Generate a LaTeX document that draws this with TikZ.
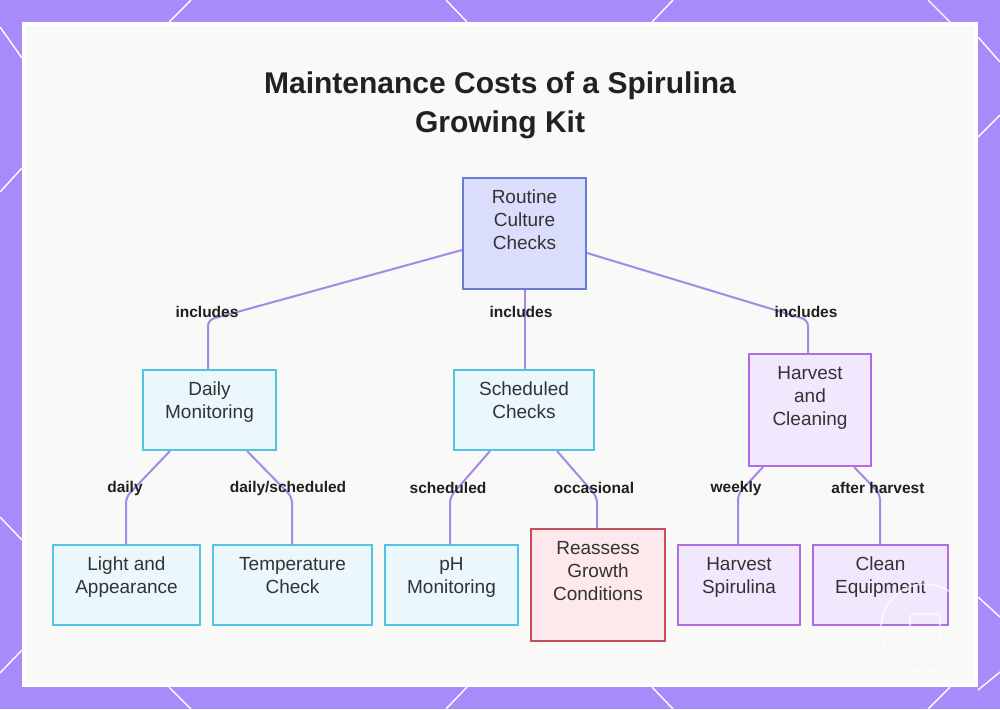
\documentclass[tikz,border=0pt]{standalone}
\usepackage{fontspec}
\setmainfont{Liberation Sans}
\usetikzlibrary{calc}

\newlength\pxu
\setlength\pxu{0.5pt}
% box text: width, height (px), then the lines, set at the top of the box
\newcommand{\cardtext}[3]{\parbox[c][#2\pxu][t]{#1\pxu}{\centering\rule{0pt}{25\pxu}#3}}

\begin{document}
\begin{tikzpicture}[x=0.5pt,y=-0.5pt]

% Colors
\definecolor{bgpurple}{RGB}{167,139,250}
\definecolor{panelbg}{RGB}{249,249,248}
\definecolor{Rdraw}{RGB}{108,124,214}
\definecolor{Rfill}{RGB}{218,222,252}
\definecolor{Cdraw}{RGB}{80,196,224}
\definecolor{Cfill}{RGB}{234,247,253}
\definecolor{Pdraw}{RGB}{176,108,228}
\definecolor{Pfill}{RGB}{242,232,253}
\definecolor{Xdraw}{RGB}{196,78,92}
\definecolor{Xfill}{RGB}{253,232,236}
\definecolor{linkcol}{RGB}{166,136,230}
\definecolor{textgray}{RGB}{51,51,51}

% Styles
\tikzset{
  card/.style={
    rectangle,
    anchor=north west,
    line width=1pt,
    inner sep=0pt,
    text=textgray,
    font=\fontsize{9.5}{11.5}\selectfont
  },
  Rcard/.style={card, draw=Rdraw, fill=Rfill},
  Ccard/.style={card, draw=Cdraw, fill=Cfill},
  Pcard/.style={card, draw=Pdraw, fill=Pfill},
  Xcard/.style={card, draw=Xdraw, fill=Xfill},
  link/.style={
    draw=linkcol,
    line width=1pt,
    rounded corners=3pt
  },
  tag/.style={
    inner sep=1pt,
    text=black!88,
    font=\bfseries\fontsize{7.75}{9}\selectfont
  },
  deco/.style={draw=white, line width=0.7pt}
}

\useasboundingbox (0,0) rectangle (1000,709);

% Frame
\fill[bgpurple] (0,0) rectangle (1000,709);
\foreach \xa/\ya/\xb/\yb in {169/22/191/0, 446/0/467/22, 652/22/673/0, 928/0/950/22,
    169/687/191/709, 446/709/467/687, 652/687/673/709, 928/709/950/687,
    0/27/22/58, 0/192/22/168, 0/517/22/540, 0/673/22/650,
    978/37/1000/62, 978/137/1000/115, 978/597/1000/617, 978/690/1000/672}
  \draw[deco] (\xa,\ya) -- (\xb,\yb);
\fill[white] (22,22) rectangle (978,687);
\fill[panelbg] (26,26) rectangle (974,683);

% Title
\node[align=center, text=black!87,
  font=\bfseries\fontsize{15}{19.5}\selectfont] (title) at (500,105)
  {Maintenance Costs of a Spirulina\\Growing Kit};

% Boxes
\node[Rcard] (root) at (462,177) {\cardtext{123}{111}{Routine\\Culture\\Checks}};

\node[Ccard] (daily)   at (142,369) {\cardtext{133}{80}{Daily\\Monitoring}};
\node[Ccard] (sched)   at (453,369) {\cardtext{140}{80}{Scheduled\\Checks}};
\node[Pcard] (harvest) at (748,353) {\cardtext{122}{112}{Harvest\\and\\Cleaning}};

\node[Ccard] (light)    at (52,544)  {\cardtext{147}{80}{Light and\\Appearance}};
\node[Ccard] (temp)     at (212,544) {\cardtext{159}{80}{Temperature\\Check}};
\node[Ccard] (ph)       at (384,544) {\cardtext{133}{80}{pH\\Monitoring}};
\node[Xcard] (reassess) at (530,528) {\cardtext{134}{112}{Reassess\\Growth\\Conditions}};
\node[Pcard] (hspir)    at (677,544) {\cardtext{122}{80}{Harvest\\Spirulina}};
\node[Pcard] (clean)    at (812,544) {\cardtext{135}{80}{Clean\\Equipment}};

% Bends of the links
\coordinate (kD) at (208,320);
\coordinate (kH) at (808,320);
\coordinate (kL) at (126,497);
\coordinate (kT) at (292,497);
\coordinate (kP) at (450,497);
\coordinate (kR) at (597,497);
\coordinate (kS) at (738,494);
\coordinate (kC) at (880,494);

% Links
\draw[link] (root.west |- 0,250) -- (kD) -- (kD |- daily.north);
\draw[link] (root.south) -- (root.south |- sched.north);
\draw[link] (root.east |- 0,253) -- (kH) -- (kH |- harvest.north);

\draw[link] (daily.south -| 170,0) -- (kL) -- (kL |- light.north);
\draw[link] (daily.south -| 247,0) -- (kT) -- (kT |- temp.north);
\draw[link] (sched.south -| 490,0) -- (kP) -- (kP |- ph.north);
\draw[link] (sched.south -| 557,0) -- (kR) -- (kR |- reassess.north);
\draw[link] (harvest.south -| 763,0) -- (kS) -- (kS |- hspir.north);
\draw[link] (harvest.south -| 854,0) -- (kC) -- (kC |- clean.north);

% Link labels
\node[tag] (tD) at (207,312) {includes};
\node[tag] (tS) at (521,312) {includes};
\node[tag] (tH) at (806,312) {includes};
\node[tag] (tL) at (125,488) {daily};
\node[tag] (tT) at (288,488) {daily/scheduled};
\node[tag] (tP) at (448,488) {scheduled};
\node[tag] (tR) at (594,488) {occasional};
\node[tag] (tS2) at (736,488) {weekly};
\node[tag] (tC) at (878,488) {after harvest};

% Watermark
\draw[white, line width=0.8pt, opacity=0.7] (925,628) circle (44);
\draw[white, line width=1pt, opacity=0.6, rounded corners=2pt] (910,614) rectangle (940,642);

\end{tikzpicture}
\end{document}
